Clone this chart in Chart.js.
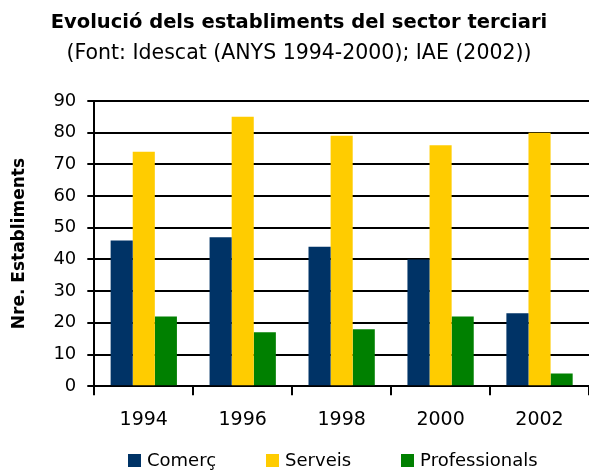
<!DOCTYPE html>
<html>
<head>
<meta charset="utf-8">
<script src="https://cdn.jsdelivr.net/npm/chart.js@4/dist/chart.umd.min.js"></script>
<style>
  body { margin: 0; background: #fff; }
  #wrap { position: relative; width: 589px; height: 472px; }
  #legend { position: absolute; left: 128px; top: 451px; display: flex; align-items: center;
            font-family: "DejaVu Sans", sans-serif; font-size: 18px; line-height: 18px; color: #000; }
  #legend .item { display: flex; align-items: center; margin-right: 50px; }
  #legend .box { width: 13px; height: 13px; margin-right: 6px; }
</style>
</head>
<body>
<div id="wrap">
  <canvas id="chart" width="589" height="472"></canvas>
  <div id="legend"></div>
</div>
<script>
var years = ['1994', '1996', '1998', '2000', '2002'];
var comerc = [46, 47, 44, 40, 23];
var serveis = [74, 85, 79, 76, 80];
var professionals = [22, 17, 18, 22, 4];
var yTicks = [0, 10, 20, 30, 40, 50, 60, 70, 80, 90];

var font = '"DejaVu Sans", sans-serif';
Chart.defaults.font.family = font;
Chart.defaults.color = '#000';

var ctx = document.getElementById('chart');
var myChart = new Chart(ctx, {
    type: 'bar',
    data: {
        labels: years,
        datasets: [{
            label: 'Comerç',
            data: comerc,
            backgroundColor: '#003366'
        }, {
            label: 'Serveis',
            data: serveis,
            backgroundColor: '#FFCC00'
        }, {
            label: 'Professionals',
            data: professionals,
            backgroundColor: '#008000'
        }]
    },
    options: {
        responsive: false,
        animation: false,
        layout: { padding: { left: 9, right: 0, top: 11, bottom: 28 } },
        datasets: {
            bar: { categoryPercentage: 0.67, barPercentage: 1.0 }
        },
        plugins: {
            title: {
                display: true,
                text: 'Evolució dels establiments del sector terciari',
                font: { size: 19.5, weight: 'bold' },
                padding: 0
            },
            subtitle: {
                display: true,
                text: '(Font: Idescat (ANYS 1994-2000); IAE (2002))',
                font: { size: 20.5 },
                padding: { top: 7, bottom: 35 }
            },
            legend: { display: false },
            tooltip: { enabled: false }
        },
        scales: {
            x: {
                grid: {
                    drawOnChartArea: false,
                    color: '#000',
                    lineWidth: 2,
                    tickLength: 9
                },
                border: { color: '#000', width: 2 },
                ticks: { font: { size: 19 }, padding: 13 }
            },
            y: {
                min: 0,
                max: 90,
                afterBuildTicks: function(axis) {
                    axis.ticks = yTicks.map(function(v) { return { value: v }; });
                },
                grid: {
                    color: '#000',
                    lineWidth: 2,
                    tickLength: 7
                },
                border: { color: '#000', width: 2 },
                ticks: { font: { size: 18 }, padding: 11 },
                title: {
                    display: true,
                    text: 'Nre. Establiments',
                    font: { size: 17, weight: 'bold' },
                    padding: { top: 0, bottom: 13 }
                }
            }
        }
    }
});

// legend built from the chart's own datasets
var legend = document.getElementById('legend');
myChart.data.datasets.forEach(function(ds) {
    var item = document.createElement('div');
    item.className = 'item';
    var box = document.createElement('span');
    box.className = 'box';
    box.style.background = ds.backgroundColor;
    var txt = document.createElement('span');
    txt.textContent = ds.label;
    item.appendChild(box);
    item.appendChild(txt);
    legend.appendChild(item);
});
</script>
</body>
</html>
